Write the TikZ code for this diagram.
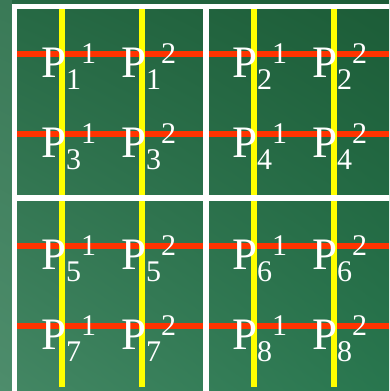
\documentclass[tikz,border=0pt]{standalone}
\usepackage{fontspec}
\setmainfont{Liberation Serif}
\usetikzlibrary{shadings}
\definecolor{redline}{RGB}{255,51,0}
\definecolor{yelline}{RGB}{255,255,0}
\definecolor{gTL}{RGB}{38,105,68}
\definecolor{gTR}{RGB}{28,92,55}
\definecolor{gBL}{RGB}{68,135,100}
\definecolor{gBR}{RGB}{40,118,78}
\newcommand{\Pqq}[2]{\fontsize{45}{45}\selectfont P\raisebox{-12pt}{\fontsize{30}{30}\selectfont #1}\raisebox{14pt}{\fontsize{30}{30}\selectfont #2}}
\tikzset{
  redl/.style={draw=redline, line width=6pt},
  yell/.style={draw=yelline, line width=6pt},
  whitel/.style={draw=white, line width=5pt},
  whitem/.style={draw=white, line width=6pt},
  plabel/.style={anchor=base west, inner sep=0pt, text=white},
}
\begin{document}
\begin{tikzpicture}[x=1pt,y=-1pt]
\useasboundingbox (0,0) rectangle (389,391);
\shade[upper left=gTL, upper right=gTR, lower left=gBL, lower right=gBR] (0,0) rectangle (389,391);
\fill[gBL!85!white, opacity=0.35] (0,0) rectangle (12,391);
% red horizontal lines
\foreach \y in {54,134,246,326} \draw[redl] (16,\y) -- (389,\y);
% yellow vertical lines
\foreach \x in {62,142,254,334} \draw[yell] (\x,8) -- (\x,387);
% white frame
\draw[whitel] (389,6) -- (14,6) -- (14,391);
\draw[whitem] (206,6) -- (206,391);
\draw[whitem] (14,198) -- (389,198);
% labels
\node[plabel] (p11) at (41,77) {\Pqq{1}{1}};
\node[plabel] (p12) at (121,77) {\Pqq{1}{2}};
\node[plabel] (p21) at (232,77) {\Pqq{2}{1}};
\node[plabel] (p22) at (312,77) {\Pqq{2}{2}};
\node[plabel] (p31) at (41,157) {\Pqq{3}{1}};
\node[plabel] (p32) at (121,157) {\Pqq{3}{2}};
\node[plabel] (p41) at (232,157) {\Pqq{4}{1}};
\node[plabel] (p42) at (312,157) {\Pqq{4}{2}};
\node[plabel] (p51) at (41,269) {\Pqq{5}{1}};
\node[plabel] (p52) at (121,269) {\Pqq{5}{2}};
\node[plabel] (p61) at (232,269) {\Pqq{6}{1}};
\node[plabel] (p62) at (312,269) {\Pqq{6}{2}};
\node[plabel] (p71) at (41,349) {\Pqq{7}{1}};
\node[plabel] (p72) at (121,349) {\Pqq{7}{2}};
\node[plabel] (p81) at (232,349) {\Pqq{8}{1}};
\node[plabel] (p82) at (312,349) {\Pqq{8}{2}};
\end{tikzpicture}
\end{document}
